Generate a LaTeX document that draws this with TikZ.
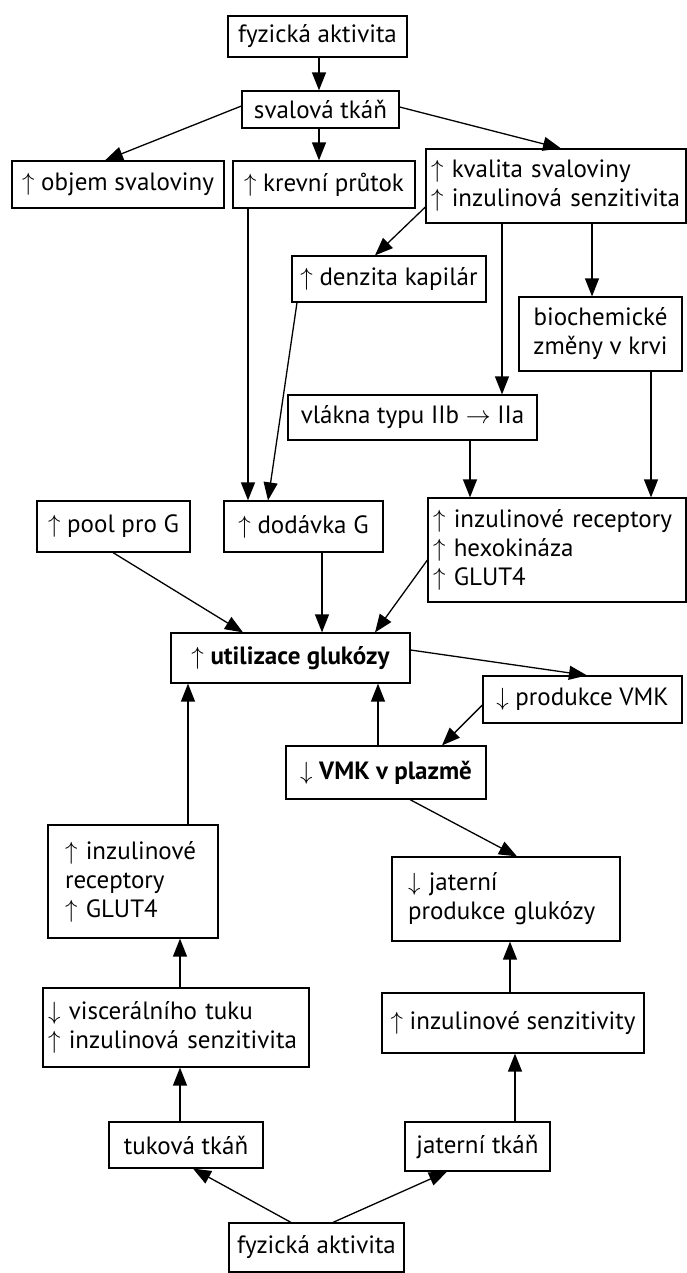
\documentclass[tikz,border=0pt]{standalone}
\usepackage{fontspec}
\setmainfont{PT Sans}
\usetikzlibrary{arrows.meta,calc}
\begin{document}
\begin{tikzpicture}[x=1pt,y=-1pt,
  box/.style={draw, line width=1.2pt, inner sep=0pt, font=\fontsize{25}{29}\selectfont},
  arr/.style={line width=1.3pt, -{Triangle[length=18pt,width=14pt]}}]
\useasboundingbox (0,0) rectangle (687,1273);
% boxes
\node[box, minimum width=179pt, minimum height=41pt] (fyz1) at (317.5,36.5) {fyzická aktivita};
\node[box, minimum width=157pt, minimum height=37pt] (sval) at (320.5,109.5) {svalová tkáň};
\node[box, minimum width=212pt, minimum height=47pt] (objem) at (118,184.5) {$\uparrow$ objem svaloviny};
\node[box, minimum width=182pt, minimum height=47pt] (krev) at (324,184.5) {$\uparrow$ krevní průtok};
\node[box, align=left, text width=250pt, inner xsep=5pt, minimum height=74pt] (kval) at (556,186) {$\uparrow$ kvalita svaloviny\\$\uparrow$ inzulinová senzitivita};
\node[box, minimum width=194pt, minimum height=46pt] (denz) at (389,279) {$\uparrow$ denzita kapilár};
\node[box, align=center, minimum width=163pt, minimum height=74pt] (bio) at (600.5,334) {biochemické\\změny v krvi};
\node[box, minimum width=249pt, minimum height=45pt] (vl) at (412.5,417.5) {vlákna typu IIb $\rightarrow$ IIa};
\node[box, minimum width=153pt, minimum height=51pt] (pool) at (113.5,526.5) {$\uparrow$ pool pro G};
\node[box, minimum width=159pt, minimum height=51pt] (dod) at (303.5,526.5) {$\uparrow$ dodávka G};
\node[box, align=left, text width=248pt, inner xsep=5pt, minimum height=104pt] (rec) at (557,550) {$\uparrow$ inzulinové receptory\\$\uparrow$ hexokináza\\$\uparrow$ GLUT4};
\node[box, minimum width=239pt, minimum height=50pt] (util) at (290.5,658) {$\uparrow$ \bfseries utilizace glukózy};
\node[box, minimum width=199pt, minimum height=47pt] (prod) at (582.5,699.5) {$\downarrow$ produkce VMK};
\node[box, minimum width=200pt, minimum height=53pt] (vmk) at (386,772.5) {$\downarrow$ \bfseries VMK v plazmě};
\node[box, align=left, text width=136pt, inner xsep=17pt, minimum height=113pt] (rec2) at (133,881.5) {$\uparrow$ inzulinové\\receptory\\$\uparrow$ GLUT4};
\node[box, align=left, text width=196pt, inner xsep=16pt, minimum height=84pt] (jat) at (506,899) {$\downarrow$ jaterní\\produkce glukózy};
\node[box, align=left, text width=256pt, inner xsep=5pt, minimum height=79pt] (visc) at (176,1027.5) {$\downarrow$ viscerálního tuku\\$\uparrow$ inzulinová senzitivita};
\node[box, minimum width=262pt, minimum height=60pt] (senz) at (513,1023) {$\uparrow$ inzulinové senzitivity};
\node[box, minimum width=154pt, minimum height=46pt] (tuk) at (186,1145) {tuková tkáň};
\node[box, minimum width=145pt, minimum height=49pt] (jtk) at (477.5,1146.5) {jaterní tkáň};
\node[box, minimum width=175pt, minimum height=49pt] (fyz2) at (316.5,1247.5) {fyzická aktivita};
% helper coordinates
\foreach \v in {105,113,180,188,193,243,248,268,291,297,319,322,333,375,378,410,442,447,470,502,510,515,517,561,587,592,651}
  {\coordinate (x\v) at (\v,0);}
\foreach \v in {106,107,207,560,650,705}
  {\coordinate (y\v) at (0,\v);}
% connectors
\draw[arr] (fyz1.south -| x319) -- (sval.north -| x319);
\draw[arr] (sval.west |- y106) -- (objem.north -| x105);
\draw[arr] (sval.south -| x319) -- (krev.north -| x319);
\draw[arr] (sval.east |- y107) -- (kval.north -| x561);
\draw[arr] (kval.west |- y207) -- (denz.north -| x375);
\draw[arr] (kval.south -| x502) -- (vl.north -| x502);
\draw[arr] (kval.south -| x592) -- (bio.north -| x592);
\draw[arr] (krev.south -| x248) -- (dod.north -| x248);
\draw[arr] (denz.south -| x297) -- (dod.north -| x268);
\draw[arr] (vl.south -| x470) -- (rec.north -| x470);
\draw[arr] (bio.south -| x651) -- (rec.north -| x651);
\draw[arr] (pool.south -| x113) -- (util.north -| x243);
\draw[arr] (dod.south -| x322) -- (util.north -| x322);
\draw[arr] (rec.west |- y560) -- (util.north -| x375);
\draw[arr] (util.east |- y650) -- (prod.north -| x587);
\draw[arr] (prod.west |- y705) -- (vmk.north -| x442);
\draw[arr] (vmk.south -| x410) -- (jat.north -| x517);
\draw[arr] (vmk.north -| x378) -- (util.south -| x378);
\draw[arr] (rec2.north -| x188) -- (util.south -| x188);
\draw[arr] (visc.north -| x180) -- (rec2.south -| x180);
\draw[arr] (tuk.north -| x180) -- (visc.south -| x180);
\draw[arr] (senz.north -| x510) -- (jat.south -| x510);
\draw[arr] (jtk.north -| x515) -- (senz.south -| x515);
\draw[arr] (fyz2.north -| x291) -- (tuk.south -| x193);
\draw[arr] (fyz2.north -| x333) -- (jtk.south -| x447);
\end{tikzpicture}
\end{document}
